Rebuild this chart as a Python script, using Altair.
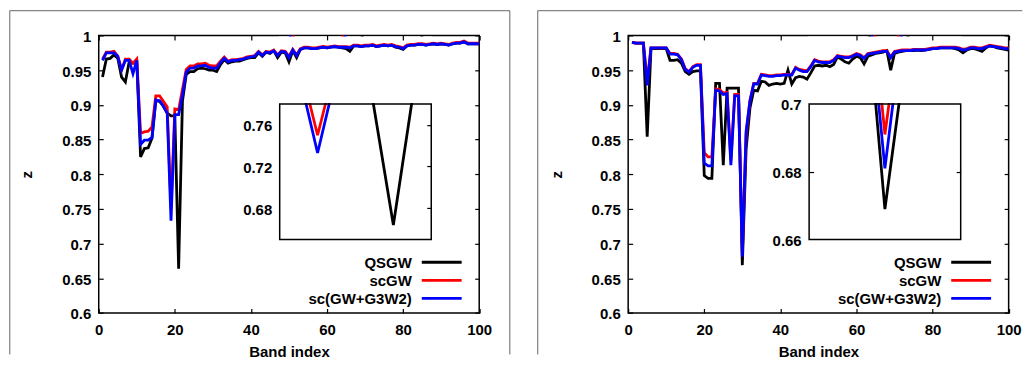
import altair as alt
import pandas as pd

# ---------------- data ----------------
band = list(range(1, 101))
names = ["QSGW", "scGW", "sc(GW+G3W2)"]
colors = ["#000000", "#ff0000", "#0000ff"]

left_qsgw = [
    0.940, 0.966, 0.967, 0.972, 0.967, 0.940, 0.933, 0.962, 0.960, 0.962,
    0.825, 0.837, 0.838, 0.852, 0.906, 0.905, 0.898, 0.888, 0.884, 0.884,
    0.664, 0.905, 0.944, 0.948, 0.948, 0.952, 0.953, 0.952, 0.950, 0.950,
    0.948, 0.958, 0.965, 0.960, 0.962, 0.963, 0.963, 0.965, 0.967, 0.968,
    0.968, 0.975, 0.970, 0.976, 0.974, 0.978, 0.968, 0.976, 0.975, 0.962,
    0.978, 0.968, 0.980, 0.982, 0.982, 0.981, 0.981, 0.982, 0.983, 0.982,
    0.983, 0.984, 0.983, 0.982, 0.981, 0.977, 0.985, 0.985, 0.984, 0.985,
    0.985, 0.986, 0.984, 0.985, 0.986, 0.985, 0.986, 0.983, 0.982, 0.980,
    0.985, 0.986, 0.986, 0.987, 0.987, 0.986, 0.987, 0.988, 0.987, 0.988,
    0.987, 0.986, 0.988, 0.989, 0.989, 0.991, 0.988, 0.988, 0.988, 0.988,
]
left_scgw = [
    0.966, 0.976, 0.976, 0.977, 0.970, 0.950, 0.966, 0.966, 0.960, 0.966,
    0.859, 0.861, 0.862, 0.868, 0.913, 0.913, 0.905, 0.897, 0.750, 0.894,
    0.893, 0.922, 0.951, 0.956, 0.956, 0.959, 0.959, 0.960, 0.957, 0.956,
    0.956, 0.963, 0.969, 0.963, 0.965, 0.965, 0.966, 0.967, 0.969, 0.970,
    0.971, 0.977, 0.972, 0.977, 0.976, 0.979, 0.972, 0.978, 0.977, 0.970,
    0.980, 0.972, 0.981, 0.983, 0.983, 0.982, 0.982, 0.983, 0.984, 0.983,
    0.984, 0.985, 0.984, 0.984, 0.984, 0.983, 0.986, 0.986, 0.985, 0.986,
    0.986, 0.987, 0.985, 0.986, 0.987, 0.986, 0.987, 0.985, 0.984, 0.982,
    0.986, 0.987, 0.987, 0.988, 0.988, 0.987, 0.988, 0.989, 0.988, 0.989,
    0.988, 0.987, 0.989, 0.990, 0.990, 0.992, 0.989, 0.989, 0.989, 0.989,
]
left_g3w2 = [
    0.964, 0.975, 0.975, 0.975, 0.970, 0.950, 0.964, 0.964, 0.945, 0.964,
    0.843, 0.849, 0.849, 0.853, 0.907, 0.906, 0.898, 0.888, 0.733, 0.886,
    0.886, 0.914, 0.947, 0.953, 0.953, 0.956, 0.956, 0.957, 0.954, 0.953,
    0.953, 0.961, 0.967, 0.962, 0.964, 0.964, 0.965, 0.966, 0.968, 0.969,
    0.970, 0.976, 0.971, 0.976, 0.975, 0.978, 0.971, 0.977, 0.976, 0.968,
    0.979, 0.971, 0.980, 0.982, 0.982, 0.981, 0.981, 0.982, 0.983, 0.982,
    0.983, 0.984, 0.983, 0.983, 0.983, 0.982, 0.985, 0.985, 0.984, 0.985,
    0.985, 0.986, 0.984, 0.985, 0.986, 0.985, 0.986, 0.984, 0.983, 0.981,
    0.985, 0.986, 0.986, 0.987, 0.987, 0.986, 0.987, 0.988, 0.987, 0.988,
    0.987, 0.986, 0.988, 0.989, 0.989, 0.991, 0.988, 0.988, 0.988, 0.988,
]

right_qsgw = [
    0.990, 0.989, 0.989, 0.989, 0.854, 0.981, 0.981, 0.981, 0.981, 0.981,
    0.964, 0.964, 0.965, 0.960, 0.948, 0.944, 0.948, 0.949, 0.949, 0.798,
    0.794, 0.794, 0.931, 0.931, 0.813, 0.924, 0.924, 0.924, 0.924, 0.669,
    0.836, 0.895, 0.921, 0.920, 0.934, 0.933, 0.928, 0.930, 0.931, 0.930,
    0.931, 0.950, 0.930, 0.939, 0.941, 0.940, 0.937, 0.946, 0.956, 0.957,
    0.956, 0.957, 0.955, 0.958, 0.969, 0.966, 0.962, 0.960, 0.966, 0.970,
    0.968, 0.959, 0.970, 0.972, 0.974, 0.975, 0.976, 0.978, 0.950, 0.974,
    0.976, 0.977, 0.978, 0.978, 0.978, 0.979, 0.978, 0.979, 0.980, 0.981,
    0.981, 0.982, 0.982, 0.982, 0.982, 0.981, 0.979, 0.975, 0.979, 0.981,
    0.981, 0.979, 0.977, 0.982, 0.985, 0.984, 0.982, 0.981, 0.980, 0.979,
]
right_scgw = [
    0.990, 0.989, 0.989, 0.989, 0.935, 0.982, 0.982, 0.982, 0.982, 0.982,
    0.974, 0.974, 0.973, 0.966, 0.952, 0.948, 0.955, 0.958, 0.958, 0.831,
    0.825, 0.825, 0.923, 0.922, 0.917, 0.918, 0.820, 0.915, 0.915, 0.691,
    0.858, 0.906, 0.931, 0.931, 0.944, 0.943, 0.942, 0.942, 0.943, 0.943,
    0.944, 0.944, 0.944, 0.954, 0.951, 0.950, 0.949, 0.956, 0.965, 0.963,
    0.962, 0.962, 0.962, 0.965, 0.971, 0.970, 0.969, 0.969, 0.971, 0.974,
    0.972, 0.968, 0.974, 0.975, 0.976, 0.977, 0.978, 0.978, 0.969, 0.977,
    0.978, 0.979, 0.979, 0.979, 0.980, 0.980, 0.980, 0.980, 0.981, 0.982,
    0.982, 0.983, 0.983, 0.983, 0.983, 0.983, 0.982, 0.980, 0.981, 0.983,
    0.983, 0.982, 0.982, 0.984, 0.986, 0.985, 0.984, 0.983, 0.982, 0.982,
]
right_g3w2 = [
    0.990, 0.989, 0.989, 0.989, 0.928, 0.982, 0.982, 0.982, 0.982, 0.982,
    0.973, 0.973, 0.972, 0.965, 0.951, 0.947, 0.954, 0.957, 0.957, 0.816,
    0.812, 0.812, 0.921, 0.920, 0.915, 0.916, 0.813, 0.913, 0.913, 0.681,
    0.862, 0.905, 0.930, 0.930, 0.943, 0.942, 0.941, 0.941, 0.942, 0.942,
    0.943, 0.943, 0.943, 0.953, 0.950, 0.948, 0.948, 0.955, 0.964, 0.962,
    0.961, 0.961, 0.961, 0.964, 0.970, 0.969, 0.968, 0.968, 0.970, 0.973,
    0.971, 0.967, 0.973, 0.974, 0.975, 0.976, 0.977, 0.977, 0.968, 0.976,
    0.977, 0.978, 0.978, 0.978, 0.979, 0.979, 0.979, 0.979, 0.980, 0.981,
    0.981, 0.982, 0.982, 0.982, 0.982, 0.982, 0.981, 0.979, 0.980, 0.982,
    0.982, 0.981, 0.981, 0.983, 0.985, 0.984, 0.983, 0.982, 0.981, 0.981,
]

x_ticks = [0, 20, 40, 60, 80, 100]
y_ticks = [0.6, 0.65, 0.7, 0.75, 0.8, 0.85, 0.9, 0.95, 1.0]

left_inset_x = [18, 22]
left_inset_y = [0.65, 0.78]
left_inset_labels = [0.68, 0.72, 0.76]
right_inset_x = [29, 31]
right_inset_y = [0.66, 0.70]
right_inset_labels = [0.66, 0.68, 0.70]
right_inset_ticks = [0.68]

# ---------------- layout constants ----------------
W, H = 381.6, 278.4
FONT = "Liberation Sans"
INSET_X = [181.5, 333.5]
INSET_Y = [204.7, 68.7]
TICK = 4.5
LW = 2.8

color_scale = alt.Scale(domain=names, range=colors)
color = alt.Color("series:N", scale=color_scale, legend=None)
one = pd.DataFrame({"k": [0]})


def long_df(q, s, g):
    rows = []
    for name, vals in zip(names, [q, s, g]):
        for b, v in zip(band, vals):
            rows.append({"band": b, "z": v, "series": name})
    return pd.DataFrame(rows)


def tick_axis(orient, values, offset):
    return alt.Axis(orient=orient, values=values, labels=False, ticks=True,
                    tickSize=TICK, tickColor="black", tickWidth=1.2,
                    domain=False, grid=False, offset=offset, title=None,
                    zindex=1)


def line_layer(data, xs, ys, xaxis, yaxis, opacity=1.0, clip=False):
    return alt.Chart(data).mark_line(strokeWidth=LW, opacity=opacity, clip=clip).encode(
        x=alt.X("band:Q", scale=xs, axis=xaxis),
        y=alt.Y("z:Q", scale=ys, axis=yaxis),
        color=color,
    )


def panel(q, s, g, ix, iy, ilabels, itick_right, itick_left, fx0, fx1, right_frame):
    df = long_df(q, s, g)
    xs = alt.Scale(domain=[0, 100], nice=False, zero=False)
    ys = alt.Scale(domain=[0.6, 1.0], nice=False, zero=False)

    x_lab = alt.Axis(orient="bottom", values=x_ticks, ticks=False, tickSize=0,
                     domain=False, grid=False, labelPadding=9.6, labelFlush=False,
                     title="Band index", titlePadding=7, zindex=1)
    y_lab = alt.Axis(orient="left", values=y_ticks, format="~g", ticks=False,
                     tickSize=0, domain=False, grid=False, labelPadding=8,
                     labelOffset=1, title="z", titlePadding=27, zindex=1)

    main = alt.layer(
        line_layer(df, xs, ys, x_lab, y_lab),
        line_layer(df, xs, ys, tick_axis("bottom", x_ticks, -TICK),
                   tick_axis("left", y_ticks, -TICK), opacity=0, clip=True),
        line_layer(df, xs, ys, tick_axis("top", x_ticks, -TICK),
                   tick_axis("right", y_ticks, -TICK), opacity=0, clip=True),
    ).resolve_axis(x="independent", y="independent")

    # inset
    idf = df[(df["band"] >= ix[0]) & (df["band"] <= ix[1])]
    ixs = alt.Scale(domain=ix, range=INSET_X, nice=False, zero=False)
    iys = alt.Scale(domain=iy, range=INSET_Y, nice=False, zero=False)
    i_lab = alt.Axis(orient="left", values=ilabels, format="~g", ticks=False,
                     tickSize=0, domain=False, grid=False, labelPadding=8,
                     labelOffset=1, offset=-INSET_X[0], title=None, zindex=1)
    inset_layers = [line_layer(idf, ixs, iys, None, i_lab, clip=True)]
    if itick_right:
        inset_layers.append(line_layer(idf, ixs, iys, None,
                                       tick_axis("right", itick_right, -(W - INSET_X[1] + TICK)),
                                       opacity=0, clip=True))
    if itick_left:
        inset_layers.append(line_layer(idf, ixs, iys, None,
                                       tick_axis("left", itick_left, -(INSET_X[0] + TICK)),
                                       opacity=0, clip=True))
    inset = alt.layer(*inset_layers).resolve_axis(y="independent")

    inset_bg = alt.Chart(one).mark_rect(fill="white").encode(
        x=alt.value(INSET_X[0]), x2=alt.value(INSET_X[1]),
        y=alt.value(INSET_Y[1]), y2=alt.value(INSET_Y[0]))
    mask = alt.Chart(one).mark_rect(fill="white").encode(
        x=alt.value(INSET_X[0] - 1), x2=alt.value(INSET_X[1] + 1),
        y=alt.value(1), y2=alt.value(INSET_Y[1] - 0.9))
    inset_frame = alt.Chart(one).mark_rect(fillOpacity=0, stroke="black", strokeWidth=1.5).encode(
        x=alt.value(INSET_X[0]), x2=alt.value(INSET_X[1]),
        y=alt.value(INSET_Y[1]), y2=alt.value(INSET_Y[0]))

    # legend (gnuplot style: text then line sample)
    leg = pd.DataFrame({"series": names})
    ly = alt.Y("series:N", scale=alt.Scale(type="point", domain=names,
                                           range=[227.5, 263.7], padding=0), axis=None)
    legend = alt.layer(
        alt.Chart(leg).mark_text(align="right", baseline="middle", font=FONT,
                                 fontSize=15, fontWeight="bold", color="black", dy=1).encode(
            x=alt.value(314), y=ly, text="series:N"),
        alt.Chart(leg).mark_rule(strokeWidth=LW).encode(
            x=alt.value(324), x2=alt.value(364), y=ly, color=color),
    )

    # outer panel frame
    FTOP, FBOT = -24.8, 320
    frame = [
        alt.Chart(one).mark_rule(color="#666666", strokeWidth=1).encode(
            x=alt.value(fx0), y=alt.value(FTOP), y2=alt.value(FBOT)),
        alt.Chart(one).mark_rule(color="#666666", strokeWidth=1).encode(
            x=alt.value(fx0), x2=alt.value(fx1), y=alt.value(FTOP)),
    ]
    if right_frame:
        frame.append(alt.Chart(one).mark_rule(color="#666666", strokeWidth=1).encode(
            x=alt.value(fx1), y=alt.value(FTOP), y2=alt.value(FBOT)))

    layers = frame + [inset_bg, inset, mask, inset_frame, main, legend]
    return alt.layer(*layers).resolve_scale(x="independent", y="independent").properties(
        width=W, height=H)


left = panel(left_qsgw, left_scgw, left_g3w2, left_inset_x, left_inset_y,
             left_inset_labels, left_inset_labels, None, -89.2, 412.3, True)
right = panel(right_qsgw, right_scgw, right_g3w2, right_inset_x, right_inset_y,
              right_inset_labels, right_inset_ticks, right_inset_ticks, -90.7, 395.3, False)

chart = alt.hconcat(left, right, spacing=25).properties(padding=0).configure_view(
    stroke="black", strokeWidth=1.5
).configure_axis(
    labelFont=FONT, labelFontSize=15, labelFontWeight="bold", labelColor="black",
    titleFont=FONT, titleFontSize=15, titleFontWeight="bold", titleColor="black",
)

chart.save("out.html", embed_options={"renderer": "svg", "actions": False})
